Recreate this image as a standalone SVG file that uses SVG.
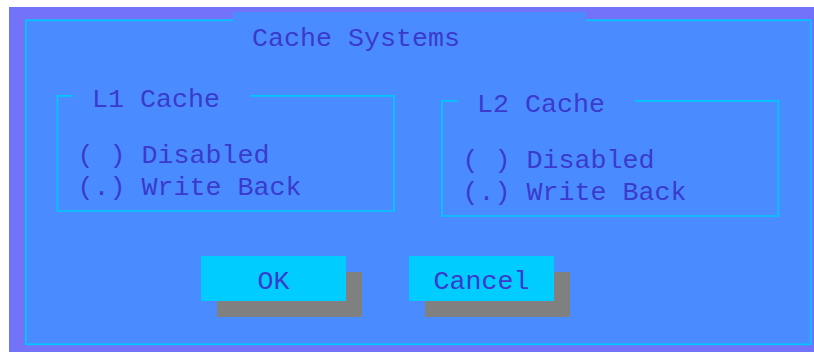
<svg xmlns="http://www.w3.org/2000/svg" width="814" height="352" viewBox="0 0 814 352">
  <style>
    .txt { font-family: "Liberation Mono", "DejaVu Sans Mono", monospace; font-size: 26.67px; fill: #3a3acc; }
    .frame { fill: none; stroke: #00c8ff; stroke-width: 1.7; }
    .btn { fill: #00ccff; }
    .shadow { fill: #808080; }
  </style>

  <!-- screen backdrop -->
  <rect x="9" y="7" width="805" height="345" fill="#7373fa"/>

  <g id="dialog">
    <rect x="25.8" y="20.2" width="785" height="324.1" fill="#4a8cff" stroke="#00c8ff" stroke-width="1.7"/>
    <!-- title tab breaking the top border -->
    <rect x="233" y="12" width="353" height="9.5" fill="#4a8cff"/>
    <text class="txt" x="252" y="46">Cache Systems</text>
  </g>

  <g id="l1-cache">
    <path class="frame" d="M72.7,95.8 H57.4 V211 H394 V95.8 H250"/>
    <text class="txt" x="92" y="106.7">L1 Cache</text>
    <text class="txt" x="77.5" y="163.3">( ) Disabled</text>
    <text class="txt" x="77.5" y="195">(.) Write Back</text>
  </g>

  <g id="l2-cache">
    <path class="frame" d="M457.3,100.8 H442 V216 H778.3 V100.8 H635"/>
    <text class="txt" x="477" y="111.7">L2 Cache</text>
    <text class="txt" x="462.5" y="168.3">( ) Disabled</text>
    <text class="txt" x="462.5" y="200">(.) Write Back</text>
  </g>

  <g id="btn-ok">
    <rect class="shadow" x="217" y="272" width="145" height="45"/>
    <rect class="btn" x="201" y="256" width="145" height="45"/>
    <text class="txt" x="273.5" y="289" text-anchor="middle">OK</text>
  </g>

  <g id="btn-cancel">
    <rect class="shadow" x="425" y="272" width="145" height="45"/>
    <rect class="btn" x="409" y="256" width="145" height="45"/>
    <text class="txt" x="481.5" y="289" text-anchor="middle">Cancel</text>
  </g>
</svg>
